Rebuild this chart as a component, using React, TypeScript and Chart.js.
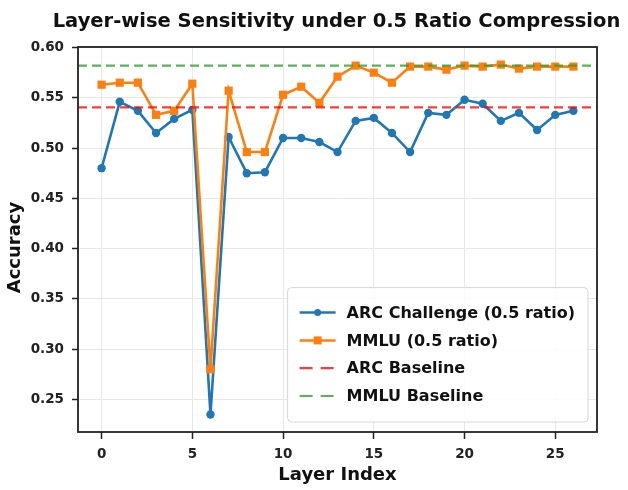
import React, { useEffect, useRef } from "react";
import { Chart, registerables } from "chart.js";

Chart.register(...registerables);

const TITLE = "Layer-wise Sensitivity under 0.5 Ratio Compression";
const X_LABEL = "Layer Index";
const Y_LABEL = "Accuracy";

const LAYERS = [0, 1, 2, 3, 4, 5, 6, 7, 8, 9, 10, 11, 12, 13, 14, 15, 16, 17, 18, 19, 20, 21, 22, 23, 24, 25, 26];
const ARC_VALUES = [0.480, 0.546, 0.537, 0.515, 0.529, 0.538, 0.235, 0.511, 0.475, 0.476, 0.510, 0.510, 0.506, 0.496, 0.527, 0.530, 0.515, 0.496, 0.535, 0.533, 0.548, 0.544, 0.527, 0.535, 0.518, 0.533, 0.537];
const MMLU_VALUES = [0.563, 0.565, 0.565, 0.533, 0.537, 0.564, 0.280, 0.557, 0.496, 0.496, 0.553, 0.561, 0.545, 0.571, 0.582, 0.575, 0.565, 0.581, 0.581, 0.578, 0.582, 0.581, 0.583, 0.579, 0.581, 0.581, 0.581];
const ARC_BASELINE = 0.5405;
const MMLU_BASELINE = 0.582;

const X_TICKS = [0, 5, 10, 15, 20, 25];
const Y_TICKS = [0.25, 0.3, 0.35, 0.4, 0.45, 0.5, 0.55, 0.6];
const X_MIN = -1.3;
const X_MAX = 27.3;
const Y_MIN = 0.2176;
const Y_MAX = 0.6005;

const LEGEND_LABELS = ["ARC Challenge (0.5 ratio)", "MMLU (0.5 ratio)", "ARC Baseline", "MMLU Baseline"];

const BLUE = "#1f77b4";
const ORANGE = "#ff7f0e";
const RED = "rgba(255, 0, 0, 0.78)";
const GREEN = "rgba(44, 160, 44, 0.8)";
const FONT = "'DejaVu Sans', sans-serif";
const DASH = [9, 5];

const decorPlugin = {
  id: "decor",
  beforeDatasetsDraw(chart: any) {
    const { ctx, chartArea } = chart;
    ctx.save();
    ctx.fillStyle = "#111";
    ctx.font = `bold 19.5px ${FONT}`;
    ctx.textAlign = "center";
    ctx.textBaseline = "alphabetic";
    ctx.fillText(TITLE, (chartArea.left + chartArea.right) / 2 - 1, 27);
    // y axis label
    ctx.font = `bold 18px ${FONT}`;
    ctx.textBaseline = "middle";
    ctx.translate(15, (chartArea.top + chartArea.bottom) / 2 + 8);
    ctx.rotate(-Math.PI / 2);
    ctx.fillText(Y_LABEL, 0, 0);
    ctx.restore();
  },
  afterDatasetsDraw(chart: any) {
    const { ctx, chartArea, scales } = chart;
    const y = scales.y;
    ctx.save();
    // baselines
    const baselines: [number, string][] = [
      [ARC_BASELINE, RED],
      [MMLU_BASELINE, GREEN],
    ];
    ctx.lineWidth = 2.2;
    ctx.setLineDash(DASH);
    for (const [v, c] of baselines) {
      const py = y.getPixelForValue(v);
      ctx.strokeStyle = c;
      ctx.beginPath();
      ctx.moveTo(chartArea.left, py);
      ctx.lineTo(chartArea.right, py);
      ctx.stroke();
    }
    ctx.setLineDash([]);

    // spines
    ctx.strokeStyle = "#222";
    ctx.lineWidth = 1.8;
    ctx.strokeRect(chartArea.left, chartArea.top, chartArea.right - chartArea.left, chartArea.bottom - chartArea.top);

    // legend
    ctx.font = `bold 16px ${FONT}`;
    let maxW = 0;
    for (const l of LEGEND_LABELS) maxW = Math.max(maxW, ctx.measureText(l).width);
    const padL = 12;
    const handle = 36;
    const gap = 11;
    const padR = 13;
    const rowH = 27.8;
    const firstRow = 25;
    const w = padL + handle + gap + maxW + padR;
    const h = firstRow + rowH * 3 + 26;
    const bx = chartArea.right - 9 - w;
    const by = chartArea.bottom - 10 - h;
    ctx.beginPath();
    ctx.roundRect(bx, by, w, h, 4);
    ctx.fillStyle = "rgba(255,255,255,0.85)";
    ctx.fill();
    ctx.strokeStyle = "#d6d6d6";
    ctx.lineWidth = 1;
    ctx.stroke();

    const colors = [BLUE, ORANGE, RED, GREEN];
    for (let i = 0; i < 4; i++) {
      const cy = by + firstRow + rowH * i;
      const hx = bx + padL;
      ctx.strokeStyle = colors[i];
      ctx.lineWidth = i < 2 ? 2.5 : 2.2;
      ctx.setLineDash(i < 2 ? [] : [13, 8]);
      ctx.beginPath();
      ctx.moveTo(hx, cy);
      ctx.lineTo(hx + handle, cy);
      ctx.stroke();
      ctx.setLineDash([]);
      ctx.fillStyle = colors[i];
      if (i === 0) {
        ctx.beginPath();
        ctx.arc(hx + handle / 2, cy, 3.5, 0, Math.PI * 2);
        ctx.fill();
      } else if (i === 1) {
        ctx.fillRect(hx + handle / 2 - 4, cy - 4, 8, 8);
      }
      ctx.fillStyle = "#111";
      ctx.textAlign = "left";
      ctx.textBaseline = "middle";
      ctx.fillText(LEGEND_LABELS[i], hx + handle + gap, cy + 1);
    }
    ctx.restore();
  },
};

export default function App() {
  const ref = useRef<HTMLCanvasElement | null>(null);
  useEffect(() => {
    if (!ref.current) return;
    const chart = new Chart(ref.current, {
      type: "line",
      data: {
        datasets: [
          {
            label: LEGEND_LABELS[0],
            data: LAYERS.map((x, i) => ({ x, y: ARC_VALUES[i] })),
            borderColor: BLUE,
            backgroundColor: BLUE,
            borderWidth: 2.6,
            pointRadius: 4.2,
            pointStyle: "circle",
            pointBorderWidth: 0,
            tension: 0,
            order: 2,
          },
          {
            label: LEGEND_LABELS[1],
            data: LAYERS.map((x, i) => ({ x, y: MMLU_VALUES[i] })),
            borderColor: ORANGE,
            backgroundColor: ORANGE,
            borderWidth: 2.6,
            pointRadius: 5.8,
            pointStyle: "rect",
            pointBorderWidth: 0,
            tension: 0,
            order: 1,
          },
        ],
      },
      options: {
        responsive: false,
        animation: false,
        devicePixelRatio: 1,
        layout: { padding: { top: 47, right: 31, bottom: 0, left: 0 } },
        plugins: {
          legend: { display: false },
          title: { display: false },
          tooltip: { enabled: false },
        },
        scales: {
          x: {
            type: "linear",
            min: X_MIN,
            max: X_MAX,
            afterFit: (s: any) => {
              s.height = 58;
            },
            afterBuildTicks: (s: any) => {
              s.ticks = X_TICKS.map((v) => ({ value: v }));
            },
            ticks: {
              font: { family: FONT, size: 13.5, weight: "bold" },
              color: "#222",
              padding: 7,
              maxRotation: 0,
              callback: (v: any) => String(v),
            },
            grid: {
              color: "#e8e8e8",
              lineWidth: 1,
              tickColor: "#222",
              tickLength: 7,
              tickWidth: 1.5,
            },
            border: { display: false },
            title: {
              display: true,
              text: X_LABEL,
              color: "#111",
              font: { family: FONT, size: 18, weight: "bold" },
              padding: { top: 0, bottom: 3.4 },
            },
          },
          y: {
            type: "linear",
            min: Y_MIN,
            max: Y_MAX,
            afterFit: (s: any) => {
              s.width = 78;
            },
            afterBuildTicks: (s: any) => {
              s.ticks = Y_TICKS.map((v) => ({ value: v }));
            },
            ticks: {
              font: { family: FONT, size: 13.5, weight: "bold" },
              color: "#222",
              padding: 8,
              callback: (v: any) => Number(v).toFixed(2),
            },
            grid: {
              color: "#e8e8e8",
              lineWidth: 1,
              tickColor: "#222",
              tickLength: 6,
              tickWidth: 1.5,
            },
            border: { display: false },
            title: { display: false },
          },
        },
      },
      plugins: [decorPlugin],
    });
    return () => chart.destroy();
  }, []);
  return (
    <div style={{ position: "fixed", left: 0, top: 0, width: 628, height: 490, background: "#fff" }}>
      <canvas ref={ref} width={628} height={490} style={{ width: 628, height: 490, display: "block" }} />
    </div>
  );
}
